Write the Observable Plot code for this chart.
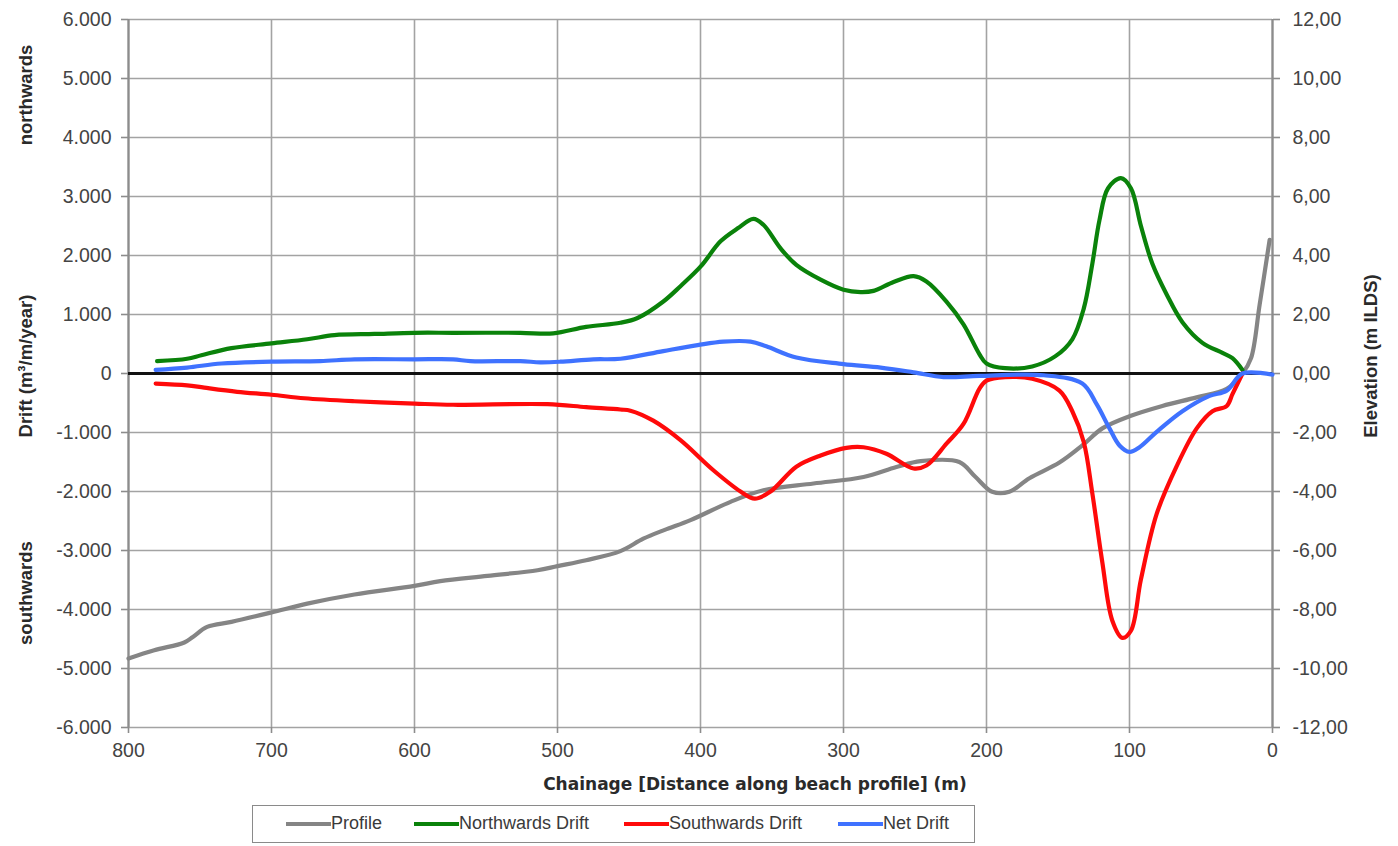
<!DOCTYPE html>
<html>
<head>
<meta charset="utf-8">
<script src="https://cdn.jsdelivr.net/npm/d3@7"></script>
<script src="https://cdn.jsdelivr.net/npm/@observablehq/plot@0.6"></script>
<style>
  body { margin: 0; background: #fff; font-family: "Liberation Sans", Arial, sans-serif; }
  #wrap { position: relative; width: 1398px; height: 846px; overflow: hidden; }
  .vt { position: absolute; font-weight: bold; color: #2a2a2a; white-space: nowrap;
        transform: translate(-50%, -50%) rotate(-90deg); font-size: 18.5px; }
  #xtitle { position: absolute; left: 755px; top: 784px; transform: translate(-50%, -50%);
            font-family: "DejaVu Sans", sans-serif; font-weight: bold; font-size: 17px; color: #2a2a2a; white-space: nowrap; }
  #legend { position: absolute; left: 252px; top: 805px; width: 723px; height: 38px;
            border: 1.5px solid #8a8a8a; box-sizing: border-box; }
  .li { position: absolute; top: 0; height: 35px; display: flex; align-items: center;
        font-size: 18px; color: #3a3a3a; white-space: nowrap; }
  .sw { display: inline-block; width: 45px; height: 4px; }
</style>
</head>
<body>
<div id="wrap">
  <div id="chart"></div>
  <div class="vt" style="left:26px; top:95px;">northwards</div>
  <div class="vt" style="left:26px; top:366px;">Drift (m³/m/year)</div>
  <div class="vt" style="left:26px; top:593px;">southwards</div>
  <div class="vt" style="left:1371px; top:356px;">Elevation (m ILDS)</div>
  <div id="xtitle">Chainage [Distance along beach profile] (m)</div>
  <div id="legend"></div>
</div>
<script>
// ---- Data ----
// Chainage (m) and beach profile elevation (m ILDS)
const profileX    = [800, 782, 761, 755, 745, 728, 700, 675, 642, 600, 582, 549, 514, 500, 480, 456, 440, 425, 407, 379, 356, 321, 286, 263, 246, 219, 208, 196, 184, 170, 149, 133, 119, 100, 77, 53, 32, 21, 15, 9, 2];
const profileElev = [-9.66, -9.38, -9.12, -8.93, -8.59, -8.42, -8.10, -7.80, -7.49, -7.20, -7.04, -6.86, -6.67, -6.53, -6.33, -6.02, -5.60, -5.30, -4.97, -4.35, -3.96, -3.73, -3.51, -3.17, -2.97, -3.00, -3.49, -4.01, -4.01, -3.55, -3.02, -2.44, -1.86, -1.45, -1.10, -0.81, -0.52, 0.00, 0.52, 2.33, 4.53];

// Northwards drift (m3/m/year)
const northX = [780, 759, 749, 728, 700, 675, 656, 628, 600, 573, 526, 503, 480, 456, 444, 426, 414, 400, 386, 374, 363, 356, 344, 333, 316, 300, 288, 279, 265, 251, 242, 228, 216, 205, 200, 187, 168, 152, 140, 132, 126, 121, 115, 106, 99, 92, 84, 74, 63, 49, 35, 28, 21];
const northY = [210, 250, 310, 430, 510, 580, 650, 670, 690, 690, 690, 680, 790, 860, 940, 1220, 1480, 1810, 2240, 2460, 2620, 2520, 2120, 1840, 1590, 1420, 1380, 1400, 1550, 1650, 1560, 1220, 830, 330, 170, 90, 120, 290, 580, 1100, 1860, 2600, 3140, 3310, 3140, 2500, 1860, 1340, 870, 520, 350, 260, 60];

// Southwards drift (m3/m/year)
const southX = [781, 759, 747, 724, 700, 677, 642, 600, 573, 507, 480, 456, 449, 433, 414, 391, 372, 362, 351, 333, 316, 298, 286, 270, 251, 242, 228, 216, 205, 200, 187, 168, 149, 140, 132, 126, 119, 112, 105, 99, 92, 81, 67, 53, 42, 32, 28, 21];
const southY = [-170, -200, -240, -310, -360, -420, -470, -510, -530, -520, -570, -610, -630, -800, -1130, -1640, -2000, -2120, -2000, -1580, -1390, -1260, -1250, -1360, -1610, -1560, -1190, -850, -260, -120, -60, -90, -290, -640, -1160, -2030, -3200, -4190, -4480, -4360, -3490, -2380, -1570, -930, -640, -550, -350, 0];

// Net drift (m3/m/year)
const netX = [781, 759, 735, 700, 666, 642, 600, 573, 561, 526, 512, 498, 475, 456, 426, 402, 384, 365, 354, 333, 300, 274, 251, 230, 205, 160, 133, 123, 114, 107, 100, 93, 81, 63, 44, 32, 21, 0];
const netY = [60, 100, 170, 200, 210, 240, 240, 240, 210, 210, 190, 200, 240, 250, 380, 480, 540, 540, 460, 270, 160, 100, 20, -60, -40, -30, -170, -520, -930, -1220, -1330, -1250, -990, -640, -380, -290, 0, -20];

// Axis ticks
const xTicks = [800, 700, 600, 500, 400, 300, 200, 100, 0];
const driftTicks = [-6000, -5000, -4000, -3000, -2000, -1000, 0, 1000, 2000, 3000, 4000, 5000, 6000];
const elevPerDrift = 2 / 1000; // 1000 m3/m/year on the left axis = 2,00 m on the right axis

// Series table built from the arrays
const seriesInfo = [
  {name: "Profile",          color: "#858585"},
  {name: "Northwards Drift", color: "#0a820a"},
  {name: "Southwards Drift", color: "#ff0a0a"},
  {name: "Net Drift",        color: "#3f72ff"}
];
const profile = profileX.map((x, i) => ({x, v: profileElev[i] / elevPerDrift}));
const north = northX.map((x, i) => ({x, v: northY[i]}));
const south = southX.map((x, i) => ({x, v: southY[i]}));
const net = netX.map((x, i) => ({x, v: netY[i]}));

const fmtLeft = d => d === 0 ? "0" : d3.format(",")(d).replace(/,/g, ".").replace("−", "-");
const fmtRight = d => (d * elevPerDrift).toFixed(2).replace(".", ",").replace("-0,00", "0,00");

const lineOpts = (color) => ({x: "x", y: "v", stroke: color, strokeWidth: 4.2, curve: "catmull-rom", strokeLinejoin: "round", strokeLinecap: "round"});
const axisFont = {fontSize: 19.5, fill: "#444"};

const chart = Plot.plot({
  width: 1398,
  height: 800,
  marginLeft: 128,
  marginRight: 126,
  marginTop: 19,
  marginBottom: 73,
  x: {domain: [800, 0]},
  y: {domain: [-6000, 6000]},
  style: {fontFamily: "'Liberation Sans', Arial, sans-serif", fontSize: "19.5px", color: "#444", background: "#fff"},
  marks: [
    Plot.gridX(xTicks, {stroke: "#a3a3a3", strokeOpacity: 1, strokeWidth: 1.6}),
    Plot.gridY(driftTicks, {stroke: "#a3a3a3", strokeOpacity: 1, strokeWidth: 1.6}),
    Plot.ruleX([800, 0], {stroke: "#8c8c8c", strokeWidth: 2.2}),
    Plot.axisY(driftTicks, {anchor: "left", tickFormat: fmtLeft, tickSize: 7, tickPadding: 10, label: null, stroke: "#8c8c8c", strokeWidth: 1.6, ...axisFont}),
    Plot.axisY(driftTicks, {anchor: "right", tickFormat: fmtRight, tickSize: 7, tickPadding: 13, label: null, stroke: "#8c8c8c", strokeWidth: 1.6, ...axisFont}),
    Plot.axisX(xTicks, {anchor: "bottom", tickFormat: d => String(d), tickSize: 6, tickPadding: 10, label: null, stroke: "#8c8c8c", strokeWidth: 1.6, ...axisFont}),
    Plot.line(profile, lineOpts(seriesInfo[0].color)),
    Plot.ruleY([0], {stroke: "#111", strokeWidth: 3}),
    Plot.line(north, lineOpts(seriesInfo[1].color)),
    Plot.line(south, lineOpts(seriesInfo[2].color)),
    Plot.line(net, lineOpts(seriesInfo[3].color))
  ]
});
document.getElementById("chart").appendChild(chart);

// Legend (HTML, below the SVG)
const legendPos = [33, 161, 371, 585];
const legend = document.getElementById("legend");
seriesInfo.forEach((s, i) => {
  const item = document.createElement("div");
  item.className = "li";
  item.style.left = legendPos[i] + "px";
  const sw = document.createElement("span");
  sw.className = "sw";
  sw.style.background = s.color;
  const t = document.createElement("span");
  t.textContent = s.name;
  item.appendChild(sw);
  item.appendChild(t);
  legend.appendChild(item);
});
</script>
</body>
</html>
